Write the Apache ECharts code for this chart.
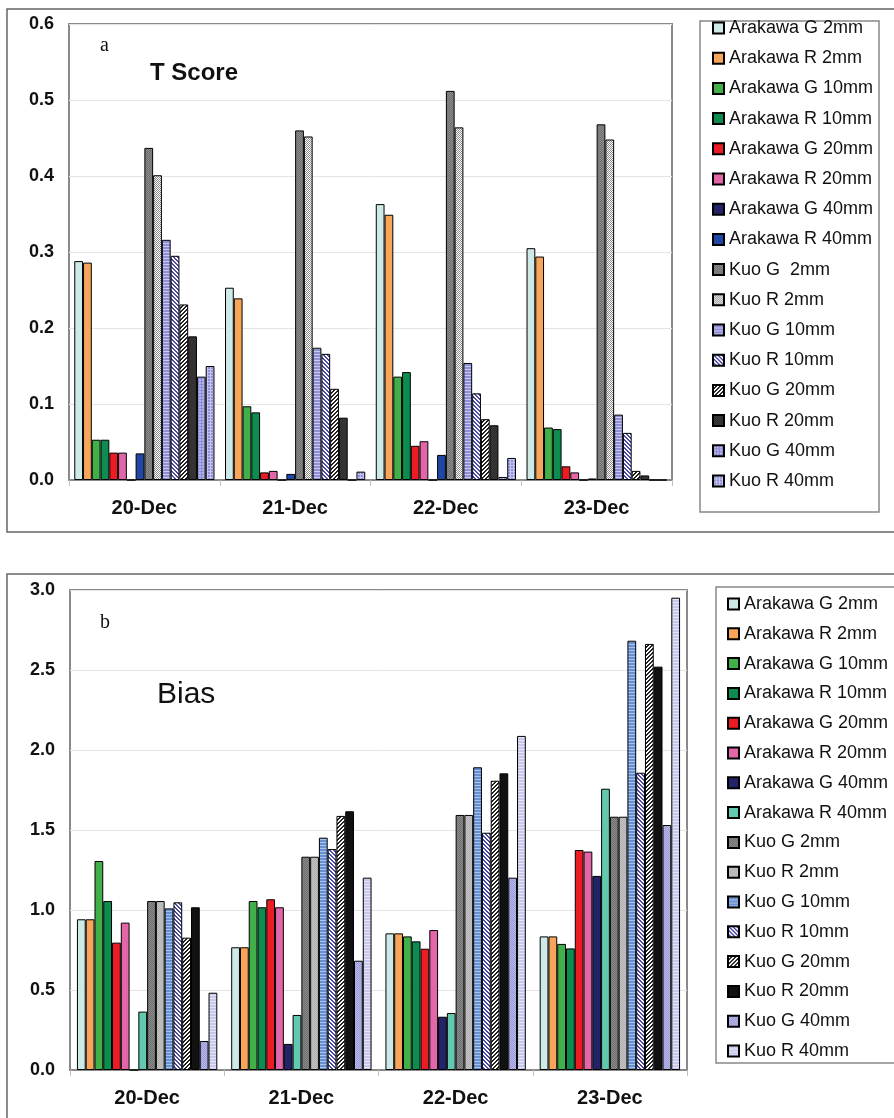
<!DOCTYPE html>
<html>
<head>
<meta charset="utf-8">
<script src="https://cdn.jsdelivr.net/npm/echarts@6/dist/echarts.min.js"></script>
<style>
    html, body { margin: 0; padding: 0; background: #fff; }
    #chartA { position: absolute; left: 0; top: 0; width: 894px; height: 545px; }
    #chartB { position: absolute; left: 0; top: 545px; width: 894px; height: 573px; }
</style>
</head>
<body>
<div id="chartA"></div>
<div id="chartB"></div>
<script>
    // categories and series names
    var categories = ['20-Dec', '21-Dec', '22-Dec', '23-Dec'];
    var seriesNames = [
        'Arakawa G 2mm', 'Arakawa R 2mm', 'Arakawa G 10mm', 'Arakawa R 10mm',
        'Arakawa G 20mm', 'Arakawa R 20mm', 'Arakawa G 40mm', 'Arakawa R 40mm',
        'Kuo G  2mm', 'Kuo R 2mm', 'Kuo G 10mm', 'Kuo R 10mm',
        'Kuo G 20mm', 'Kuo R 20mm', 'Kuo G 40mm', 'Kuo R 40mm'
    ];
    var seriesNamesB = seriesNames.slice();
    seriesNamesB[8] = 'Kuo G 2mm';

    // a: T Score, one array per day (series order as above)
    var tDec20 = [0.288, 0.286, 0.053, 0.053, 0.036, 0.036, 0, 0.035, 0.437, 0.401, 0.316, 0.295, 0.231, 0.189, 0.136, 0.150];
    var tDec21 = [0.253, 0.239, 0.097, 0.089, 0.010, 0.012, 0, 0.008, 0.460, 0.452, 0.174, 0.166, 0.120, 0.082, 0, 0.011];
    var tDec22 = [0.363, 0.349, 0.136, 0.142, 0.045, 0.051, 0, 0.033, 0.512, 0.464, 0.154, 0.114, 0.080, 0.072, 0.004, 0.029];
    var tDec23 = [0.305, 0.294, 0.069, 0.067, 0.018, 0.010, 0, 0.002, 0.468, 0.448, 0.086, 0.062, 0.012, 0.006, 0, 0];

    // b: Bias
    var bDec20 = [0.942, 0.942, 1.306, 1.056, 0.796, 0.921, 0, 0.365, 1.056, 1.056, 1.010, 1.048, 0.827, 1.017, 0.181, 0.483];
    var bDec21 = [0.767, 0.767, 1.056, 1.017, 1.067, 1.017, 0.163, 0.344, 1.333, 1.333, 1.452, 1.381, 1.588, 1.617, 0.683, 1.202];
    var bDec22 = [0.854, 0.854, 0.835, 0.804, 0.758, 0.875, 0.333, 0.356, 1.594, 1.594, 1.892, 1.483, 1.808, 1.854, 1.202, 2.088];
    var bDec23 = [0.835, 0.835, 0.788, 0.760, 1.375, 1.365, 1.213, 1.758, 1.583, 1.583, 2.683, 1.858, 2.663, 2.521, 1.531, 2.952];

    // fills: [pattern kind, background, foreground]
    var fillsA = [
        ['solid', '#cdeae8'], ['solid', '#f7a55a'], ['solid', '#41b049'], ['solid', '#0d8c4f'],
        ['solid', '#ec1c24'], ['solid', '#e266a8'], ['solid', '#24236a'], ['solid', '#1f48a6'],
        ['check', '#6e6e6e', '#8c8c8c'], ['check', '#ffffff', '#8a8a8a'], ['hlines', '#8f8fd8', '#c9c9f0'], ['diag', '#ffffff', '#4a4aa8'],
        ['anti', '#ffffff', '#222222'], ['check', '#2a2a2a', '#3c3c3c'], ['grid', '#b4b4ea', '#8c8cd0'], ['grid', '#9090d6', '#c4c4f0']
    ];
    var fillsB = [
        ['solid', '#cdeae8'], ['solid', '#f7a55a'], ['solid', '#41b049'], ['solid', '#0d8c4f'],
        ['solid', '#ec1c24'], ['solid', '#e266a8'], ['solid', '#24236a'], ['solid', '#63c8b0'],
        ['check', '#6e6e6e', '#8c8c8c'], ['check', '#b0b0b0', '#c4c4c4'], ['hlines', '#6690d2', '#a8c4ec'], ['diag', '#ffffff', '#4a4aa8'],
        ['anti', '#ffffff', '#222222'], ['solid', '#111111'], ['check', '#9a9ad8', '#b8b8ea'], ['hlines', '#c8c8ea', '#e4e4f6']
    ];

    function makeFill(f) {
        var kind = f[0], bg = f[1], fg = f[2];
        if (kind === 'solid') return bg;
        var size = kind === 'check' ? 2 : (kind === 'hlines' || kind === 'grid') ? 3 : 4;
        var c = document.createElement('canvas');
        c.width = size; c.height = size;
        var g = c.getContext('2d');
        g.fillStyle = bg;
        g.fillRect(0, 0, size, size);
        g.fillStyle = fg;
        var i;
        if (kind === 'check') {
            g.fillRect(0, 0, 1, 1); g.fillRect(1, 1, 1, 1);
        } else if (kind === 'hlines') {
            g.fillRect(0, 0, size, 1);
        } else if (kind === 'grid') {
            g.fillRect(0, 0, size, 1); g.fillRect(0, 0, 1, size);
        } else if (kind === 'diag') {
            for (i = 0; i < size; i++) { g.fillRect(i, i, 1, 1); g.fillRect((i + 1) % size, i, 1, 1); }
        } else if (kind === 'anti') {
            for (i = 0; i < size; i++) { g.fillRect(size - 1 - i, i, 1, 1); g.fillRect((size - i) % size, i, 1, 1); }
        }
        return {image: c, repeat: 'repeat'};
    }

    function buildSeries(names, days, fills, catGap) {
        return names.map(function (name, i) {
            return {
                name: name,
                type: 'bar',
                barGap: '0%',
                barCategoryGap: catGap,
                data: days.map(function (d) { return d[i]; }),
                itemStyle: {color: makeFill(fills[i]), borderColor: '#000', borderWidth: 1},
                emphasis: {disabled: true}
            };
        });
    }

    var FONT = 'Liberation Sans';

    function buildOption(cfg) {
        return {
            animation: false,
            graphic: [
                {type: 'rect', shape: cfg.outer, style: {fill: 'none', stroke: '#666', lineWidth: 1.5}, z: 0},
                {type: 'rect', shape: cfg.legendBox, style: {fill: '#fff', stroke: '#888', lineWidth: 1.5}, z: 1},
                {type: 'text', x: cfg.letter[0], y: cfg.letter[1], style: {text: cfg.letter[2], font: 'normal 20px Liberation Serif', fill: '#111', verticalAlign: 'middle'}, z: 10},
                {type: 'text', x: cfg.title[0], y: cfg.title[1], style: {text: cfg.title[2], font: cfg.title[3], fill: '#111', verticalAlign: 'middle'}, z: 10}
            ],
            legend: {
                orient: 'vertical',
                left: cfg.legendPos[0],
                top: cfg.legendPos[1],
                icon: 'rect',
                itemWidth: 11,
                itemHeight: 11,
                itemGap: cfg.legendGap,
                selectedMode: false,
                textStyle: {fontFamily: FONT, fontSize: 18, lineHeight: 20, color: '#111'},
                z: 5
            },
            grid: {
                left: cfg.grid[0], top: cfg.grid[1], width: cfg.grid[2], height: cfg.grid[3],
                show: true, borderColor: '#8a8a8a', borderWidth: 2, backgroundColor: '#fff'
            },
            xAxis: {
                type: 'category',
                data: categories,
                axisLine: {lineStyle: {color: '#8a8a8a', width: 2}},
                axisTick: {show: true, length: 6, lineStyle: {color: '#c0c0c0'}},
                axisLabel: {fontFamily: FONT, fontSize: 20, fontWeight: 'bold', color: '#111', margin: 18}
            },
            yAxis: {
                type: 'value',
                min: 0,
                max: cfg.yMax,
                interval: cfg.yStep,
                axisLine: {show: false},
                axisTick: {show: false},
                splitLine: {lineStyle: {color: '#e4e4e4', width: 1}},
                axisLabel: {
                    fontFamily: FONT, fontSize: 18, fontWeight: 'bold', color: '#111', margin: 15,
                    formatter: function (v) { return v.toFixed(1); }
                }
            },
            series: cfg.series
        };
    }

    var chartA = echarts.init(document.getElementById('chartA'));
    chartA.setOption(buildOption({
        outer: {x: 7, y: 9, width: 900, height: 523},
        legendBox: {x: 700, y: 21, width: 179, height: 491},
        legendPos: [707, 13],
        legendGap: 10.2,
        letter: [100, 46, 'a'],
        title: [150, 73, 'T Score', 'bold 24px Liberation Sans'],
        grid: [69, 24, 603, 456],
        yMax: 0.6,
        yStep: 0.1,
        series: buildSeries(seriesNames, [tDec20, tDec21, tDec22, tDec23], fillsA, '7%')
    }));

    var chartB = echarts.init(document.getElementById('chartB'));
    chartB.setOption(buildOption({
        outer: {x: 7, y: 29, width: 900, height: 600},
        legendBox: {x: 716, y: 42, width: 200, height: 476},
        legendPos: [722, 44],
        legendGap: 9.8,
        letter: [100, 78, 'b'],
        title: [157, 150, 'Bias', 'normal 30px Liberation Sans'],
        grid: [70, 45, 617, 480],
        yMax: 3,
        yStep: 0.5,
        series: buildSeries(seriesNamesB, [bDec20, bDec21, bDec22, bDec23], fillsB, '9%')
    }));
</script>
</body>
</html>
